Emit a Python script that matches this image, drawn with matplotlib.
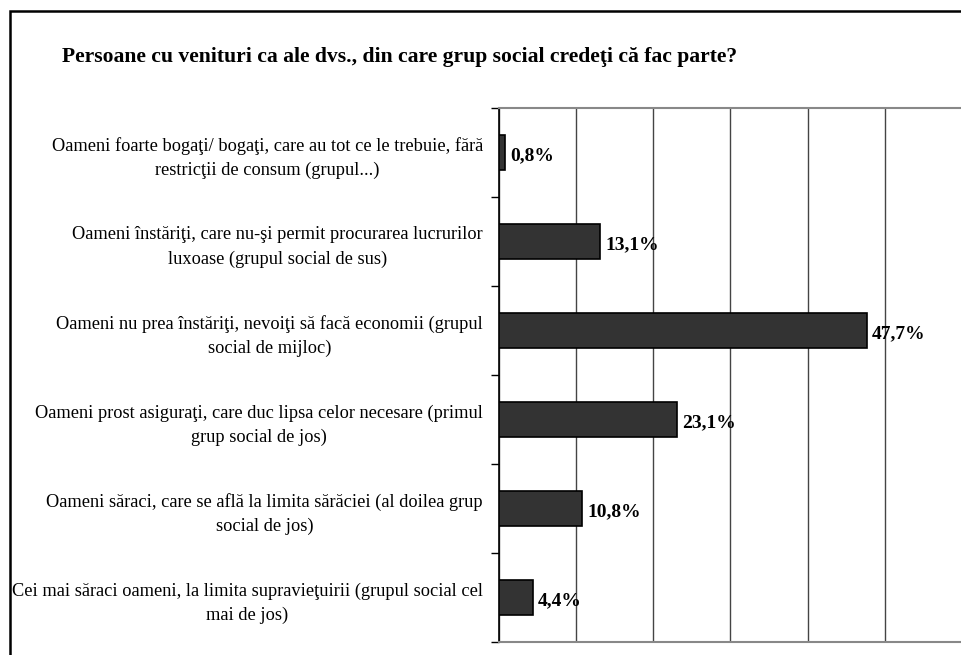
import matplotlib.pyplot as plt
from matplotlib.patches import Rectangle
import numpy as np

# chart data (top to bottom as in the picture)
categories = [
    "Oameni foarte bogaţi/ bogaţi, care au tot ce le trebuie, fără\nrestricţii de consum (grupul...)",
    "Oameni înstăriţi, care nu-şi permit procurarea lucrurilor\nluxoase (grupul social de sus)",
    "Oameni nu prea înstăriţi, nevoiţi să facă economii (grupul\nsocial de mijloc)",
    "Oameni prost asiguraţi, care duc lipsa celor necesare (primul\ngrup social de jos)",
    "Oameni săraci, care se află la limita sărăciei (al doilea grup\nsocial de jos)",
    "Cei mai săraci oameni, la limita supravieţuirii (grupul social cel\nmai de jos)",
]
values = [0.8, 13.1, 47.7, 23.1, 10.8, 4.4]
title = "Persoane cu venituri ca ale dvs., din care grup social credeţi că fac parte?"

plt.rcParams['font.family'] = ['Liberation Serif', 'DejaVu Serif']

fig = plt.figure(figsize=(9.62, 6.55), dpi=100)
ax = fig.add_axes([499 / 962, 1 - 642 / 655, 1 - 499 / 962, (642 - 108) / 655])

y = np.arange(len(values))
ax.barh(y, values, height=0.4, color='#333333', edgecolor='black', linewidth=1.2, zorder=3)
ax.set_ylim(len(values) - 0.5, -0.5)
ax.set_xlim(0, 60)

for yi, v in zip(y, values):
    ax.annotate(f"{v:.1f}%".replace('.', ','), xy=(v, yi), xytext=(5, -3),
                textcoords='offset pixels', ha='left', va='center',
                fontsize=14, fontweight='bold', zorder=4)

# gridlines
ax.set_xticks(np.arange(0, 61, 10))
ax.xaxis.grid(True, color='#444444', linewidth=1)
ax.tick_params(axis='x', length=0, labelbottom=False)

ax.set_yticks(y)
ax.set_yticklabels(categories, fontsize=13.2, multialignment='center', linespacing=1.55)
ax.tick_params(axis='y', which='major', length=0, pad=11.5)
ax.set_yticks(np.arange(-0.5, len(values)), minor=True)
ax.tick_params(axis='y', which='minor', length=6, width=1, color='black', direction='out')

for s in ['top', 'bottom']:
    ax.spines[s].set_color('#888888')
    ax.spines[s].set_linewidth(1.5)
ax.spines['right'].set_visible(False)
ax.spines['left'].set_color('black')
ax.spines['left'].set_linewidth(1.2)

fig.text(62 / 962, 1 - 57 / 655, title, fontsize=15.6, fontweight='bold', ha='left', va='center')

# outer frame (cropped on right and bottom)
fig.patches.append(Rectangle((10 / 962, -0.1), 1.2, 1 - 11 / 655 + 0.1,
                             transform=fig.transFigure, fill=False,
                             edgecolor='black', linewidth=1.8))

fig.savefig('out.png', dpi=100)
